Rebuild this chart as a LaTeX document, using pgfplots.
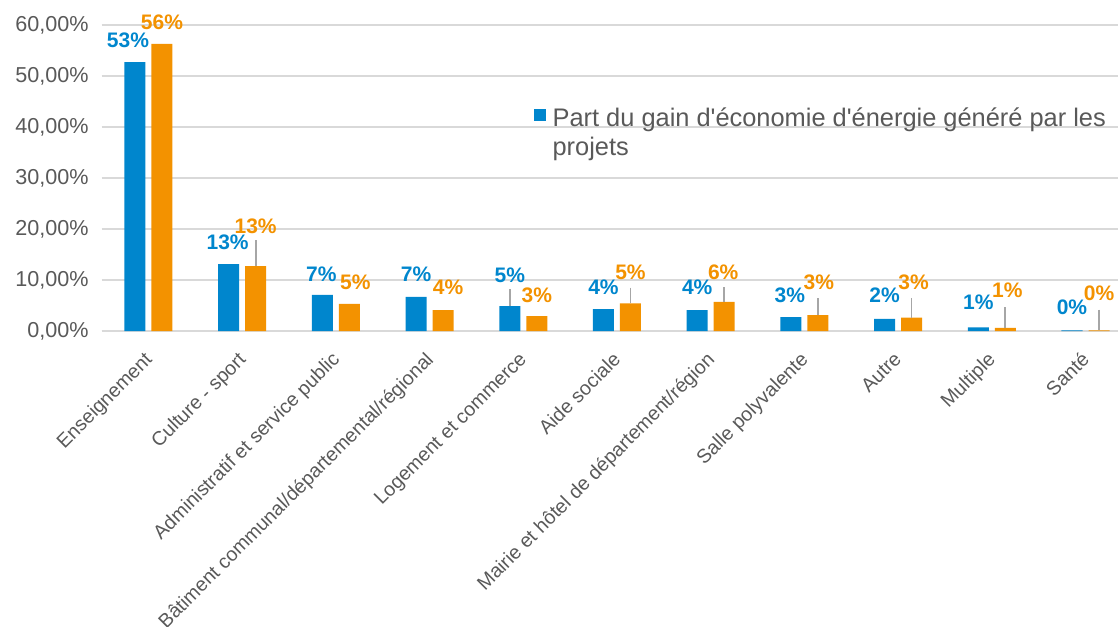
\documentclass[border=0pt]{standalone}
\usepackage{fontspec}
\setmainfont{Liberation Sans}
\usepackage{pgfplots}
\usepackage{pgfplotstable}
\pgfplotsset{compat=1.18}

\definecolor{bleu}{RGB}{0,134,205}
\definecolor{orangeb}{RGB}{243,146,0}
\definecolor{grille}{RGB}{217,217,217}
\definecolor{texte}{RGB}{89,89,89}
\definecolor{guide}{RGB}{166,166,166}

% x, valeur (%), etiquette, decalage etiquette (pt), trait de rappel (%)
\pgfplotstableread{
x y lab dx dy ey
0 52.7 53 -3.5 11 0
1 13.1 13 -0.5 11 0
2 7.1 7 -0.5 10.5 0
3 6.7 7 0 11.5 0
4 4.9 5 0 15.5 3.3
5 4.3 4 0 11 0
6 4.1 4 0 11.5 0
7 2.7 3 -0.5 11 0
8 2.4 2 0 12 0
9 0.7 1 0 12.5 0
10 0.1 0 0 11.5 0
}\bleudata

\pgfplotstableread{
x y lab dx dy ey
0 56.3 56 0 11 0
1 12.7 13 0 20 5.1
2 5.3 5 3 11 0
3 4.1 4 2.5 11.5 0
4 2.9 3 0 10.5 0
5 5.4 5 0 15.5 3.1
6 5.7 6 -0.5 15 2.9
7 3.1 3 0.5 16.5 3.3
8 2.6 3 1 17.5 3.9
9 0.6 1 1 19 4.1
10 0.1 0 0 18.5 4.1
}\orangedata

\begin{document}
\begin{tikzpicture}
\begin{axis}[
    scale only axis,
    width=508.2pt, height=153pt,
    ybar, bar width=10.5pt,
    xmin=-0.5, xmax=10.347, ymin=0, ymax=60,
    enlarge x limits=false, enlarge y limits=false,
    xtick={0,...,10},
    xticklabels={Enseignement, Culture - sport, Administratif et service public,
        Bâtiment communal/départemental/régional, Logement et commerce,
        Aide sociale, Mairie et hôtel de département/région,
        Salle polyvalente, Autre, Multiple, Santé},
    ytick={0,10,...,60},
    yticklabels={{0,00\%},{10,00\%},{20,00\%},{30,00\%},{40,00\%},{50,00\%},{60,00\%}},
    ymajorgrids,
    grid style={grille, line width=0.75pt},
    axis x line*=bottom, axis y line*=left,
    x axis line style={grille, line width=1.2pt},
    y axis line style={draw=none},
    major tick length=0pt,
    tick label style={text=texte},
    yticklabel style={font=\fontsize{10.8}{12}\selectfont, xshift=-3pt},
    xticklabel style={font=\fontsize{9.8}{11}\selectfont, rotate=45, anchor=north east,
        inner sep=1pt, yshift=-3.9pt, xshift=-7.7pt},
    clip=false,
    point meta=explicit symbolic,
    nodes near coords={\pgfplotspointmeta\%},
    visualization depends on={\thisrow{dx} \as \dx},
    visualization depends on={\thisrow{dy} \as \dy},
    every node near coord/.append style={anchor=center, xshift=\dx pt, yshift=\dy pt,
        font=\fontsize{10.5}{12}\selectfont\bfseries},
    error bars/y dir=plus, error bars/y explicit,
    error bars/error mark=none,
    error bars/error bar style={guide, line width=0.9pt},
    legend style={at={(axis cs:4.11,44.5)}, anchor=north west, draw=none, fill=none,
        inner sep=0pt, outer sep=0pt,
        font=\fontsize{12.7}{14.5}\selectfont, text=texte},
    legend cell align=left,
]
\addplot[fill=bleu, draw=none, bar shift=-6.75pt,
    every node near coord/.append style={text=bleu},
    legend image code/.code={\fill[bleu] (0pt,-1.25pt) rectangle (6pt,4.75pt); \path (7.5pt,0pt);}]
    table[x=x, y=y, meta=lab, y error=ey] {\bleudata};
\addlegendentry{\parbox[t]{300pt}{Part du gain d\textquotesingle économie d\textquotesingle énergie généré par les\\projets}}
\addplot[fill=orangeb, draw=none, bar shift=6.75pt, forget plot,
    every node near coord/.append style={text=orangeb}]
    table[x=x, y=y, meta=lab, y error=ey] {\orangedata};
\end{axis}
\pgfresetboundingbox
\path (-50.8pt,-147.5pt) rectangle (508.2pt,165.5pt);
\end{tikzpicture}
\end{document}
